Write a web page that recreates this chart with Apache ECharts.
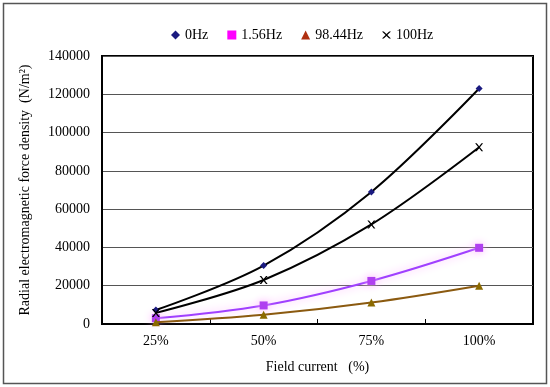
<!DOCTYPE html>
<html><head><meta charset="utf-8">
<script src="https://cdn.jsdelivr.net/npm/echarts@6/dist/echarts.min.js"></script>
<style>html,body{margin:0;padding:0;background:#fff}#c{width:550px;height:387px}</style>
</head><body><div id="c"></div>
<script>
var categories = ['25%', '50%', '75%', '100%'];
var s0Hz = [7300, 30500, 69000, 123000];
var s156Hz = [3000, 9700, 22500, 39800];
var s9844Hz = [900, 4800, 11200, 20000];
var s100Hz = [5800, 23000, 52000, 92300];
var yTicks = [0, 20000, 40000, 60000, 80000, 100000, 120000, 140000];

var xPath = 'path://M0,0 L2,0 L5,3 L8,0 L10,0 L6,4 L10,8 L8,8 L5,5 L2,8 L0,8 L4,4 Z';
var font = '"Liberation Serif", "DejaVu Serif", serif';
var chart = echarts.init(document.getElementById('c'));
chart.setOption({
  animation: false,
  textStyle: {fontFamily: font},
  graphic: [{type: 'rect', shape: {x: 3.5, y: 3.5, width: 543, height: 380}, style: {fill: 'none', stroke: '#555', lineWidth: 1.5}, silent: true}],
  legend: {
    top: 23, left: 166, itemGap: 19, itemWidth: 9, itemHeight: 9,
    textStyle: {fontFamily: font, fontSize: 14, color: '#000'},
    data: [
      {name: '0Hz', icon: 'diamond', itemStyle: {color: '#1a1a80'}},
      {name: '1.56Hz', icon: 'rect', itemStyle: {color: '#ff00ff'}},
      {name: '98.44Hz', icon: 'triangle', itemStyle: {color: '#b03010'}},
      {name: '100Hz', icon: xPath, itemStyle: {color: '#000'}}
    ]
  },
  grid: {left: 102, right: 17, top: 56, bottom: 63, show: true, borderColor: '#000', borderWidth: 2},
  xAxis: {
    type: 'category', data: categories, boundaryGap: true,
    name: 'Field current   (%)', nameLocation: 'middle', nameGap: 36,
    nameTextStyle: {fontFamily: font, fontSize: 14, color: '#000'},
    axisLine: {lineStyle: {color: '#000', width: 2}},
    axisTick: {show: true, inside: true, length: 5, lineStyle: {color: '#000'}},
    axisLabel: {fontFamily: font, fontSize: 14, color: '#000', margin: 10},
    splitLine: {show: false}
  },
  yAxis: {
    type: 'value', min: yTicks[0], max: yTicks[yTicks.length - 1], interval: 20000,
    name: 'Radial electromagnetic force density  (N/m\u00b2)', nameLocation: 'middle', nameGap: 70,
    nameTextStyle: {fontFamily: font, fontSize: 14, color: '#000'},
    axisLine: {show: true, lineStyle: {color: '#000', width: 2}},
    axisTick: {show: false},
    axisLabel: {fontFamily: font, fontSize: 14, color: '#000', margin: 12, formatter: function (v) { return String(v); }},
    splitLine: {lineStyle: {color: '#555', width: 1}}
  },
  series: [
    {name: '0Hz', type: 'line', smooth: 0.35, data: s0Hz, symbol: 'diamond', symbolSize: 7,
     itemStyle: {color: '#1a1a80'}, lineStyle: {color: '#000', width: 2}, z: 4},
    {name: '1.56Hz', type: 'line', smooth: 0.35, data: s156Hz, symbol: 'rect', symbolSize: 8,
     itemStyle: {color: '#b040f0', shadowBlur: 8, shadowColor: '#ffb0ff'},
     lineStyle: {color: '#a040ff', width: 2, shadowBlur: 8, shadowColor: '#ffb0ff'}, z: 2},
    {name: '98.44Hz', type: 'line', smooth: 0.35, data: s9844Hz, symbol: 'triangle', symbolSize: 8,
     itemStyle: {color: '#8b6a00'}, lineStyle: {color: '#8b5a10', width: 2}, z: 3},
    {name: '100Hz', type: 'line', smooth: 0.35, data: s100Hz, symbol: xPath, symbolSize: 8,
     itemStyle: {color: '#000'}, lineStyle: {color: '#000', width: 2}, z: 4}
  ]
});
</script></body></html>
